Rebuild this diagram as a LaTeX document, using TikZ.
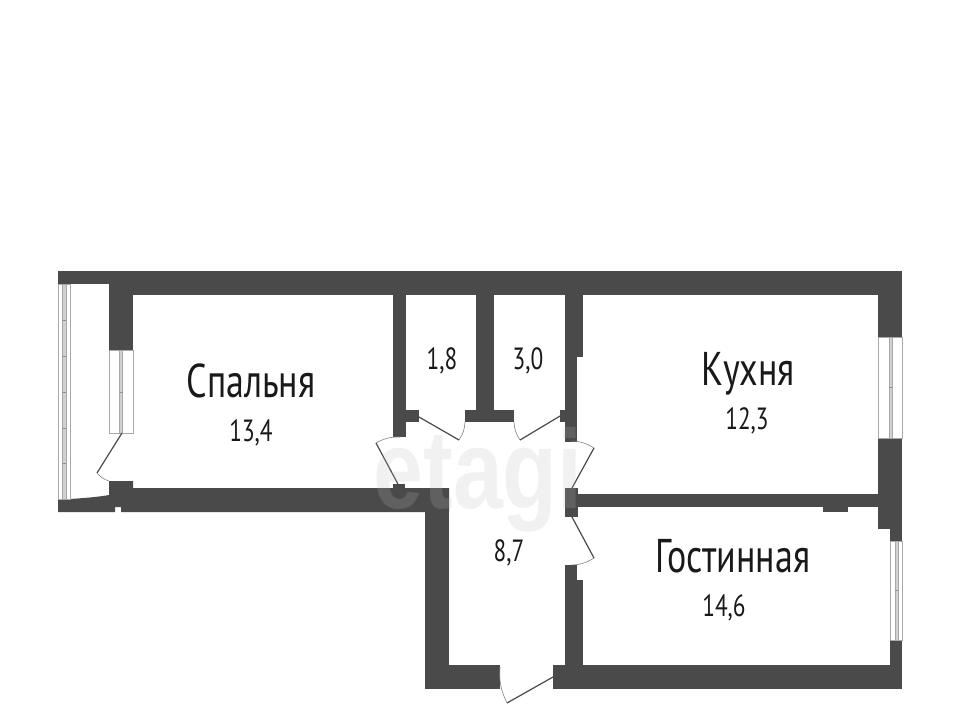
\documentclass[tikz,border=0pt]{standalone}
\usepackage{fontspec}
\newfontfamily\planfont[FakeStretch=0.76]{PT Sans}
\newfontfamily\markfont[FakeStretch=0.8]{Liberation Sans}
\definecolor{wallgray}{HTML}{4A4A4A}
\definecolor{framegray}{HTML}{A8A8A8}
\definecolor{glassgray}{HTML}{D0D0D0}
\definecolor{markgray}{HTML}{BABABA}
\tikzset{
    wall/.style={fill=wallgray, draw=none},
    frame/.style={draw=framegray, line width=0.75pt, fill=white},
    glass/.style={draw=framegray, line width=0.6pt, fill=glassgray},
    leaf/.style={draw=wallgray, line width=0.9pt},
    swing/.style={draw=gray, line width=0.45pt},
    bigname/.style={font=\planfont\fontsize{35.5}{36}\selectfont, text=black!90},
    smallnum/.style={font=\planfont\fontsize{23}{23}\selectfont, text=black!90}
}

\begin{document}
\begin{tikzpicture}[x=0.75pt, y=-0.75pt]
    \useasboundingbox (0,0) rectangle (960,710);
    % walls
    \foreach \xa/\ya/\xb/\yb in {
        58/271/110/284, 109/271/902/295, 109/271/133/350,
        393/295/406/437, 406/410/419/422, 476/295/494/411, 465/410/514/422,
        565/295/577/442, 577/295/583/357, 560/410/565/422, 393/484/405/488,
        878/295/902/337, 878/438/902/529, 890/529/902/541, 890/640/902/689,
        565/488/578/517, 578/494/878/507, 823/507/848/512,
        425/488/449/689, 425/665/500/689, 553/665/902/689,
        565/565/577/665, 577/580/583/665
    }{
        \fill[wall] (\xa,\ya) rectangle (\xb,\yb);
    }
    % bottom of the bedroom and the balcony
    \fill[wall] (58,499) -- (70,499) .. controls (85,498) and (98,497) .. (109,495)
        -- (109,481) -- (133,481) -- (133,488) -- (449,488) -- (449,512)
        -- (121,512) -- (121,507) -- (115,507) -- (115,512) -- (58,512) -- cycle;
    % windows
    \foreach \xa/\ya/\xb/\yb/\ma/\mb in {
        58/284/70/499/62/66, 109/350/133/433/119.5/122.5,
        878/337/902/438/889/892, 890/541/902/640/895/898
    }{
        \draw[frame] (\xa,\ya) rectangle (\xb,\yb);
        \draw[glass] (\ma,\ya) rectangle (\mb,\yb);
    }
    \foreach \ya/\ma/\mb in {
        320/62/66, 356/62/66, 392/62/66, 428/62/66, 463/62/66,
        392/119.5/122.5, 387/889/892, 590/895/898
    }{
        \draw[wallgray!60, line width=0.5pt] (\ma,\ya) -- (\mb,\ya);
    }
    % doors
    \foreach \hx/\hy/\tx/\ty/\ax/\ay/\bx/\by in {
        419/417/459/440/459/440/465/422,
        560/416/520/440/514/422/520/440,
        399/486/376/443/400/437/376/443,
        572/488/594/448/594/448/571/441,
        572/517/594/558/571/565/594/558,
        122/433/97/473/97/473/109/481,
        553/677/507/703/500/667/507/703
    }{
        \draw[leaf] (\hx,\hy) -- (\tx,\ty);
        \draw[swing] (\ax,\ay) to[bend right=15] (\bx,\by);
    }
    \node[font=\markfont\bfseries\fontsize{84}{84}\selectfont, text=markgray, text opacity=0.2] (watermark) at (478,480) {etagi};
    \node[bigname] (bedroom) at (251,381) {Спальня};
    \node[smallnum] (bedroomarea) at (251,433) {13,4};
    \node[bigname] (kitchen) at (748,374) {Кухня};
    \node[smallnum] (kitchenarea) at (747,421) {12,3};
    \node[bigname] (livingroom) at (733,556) {Гостинная};
    \node[smallnum] (livingarea) at (724,608) {14,6};
    \node[smallnum] (closetone) at (442,361) {1,8};
    \node[smallnum] (closettwo) at (528,361) {3,0};
    \node[smallnum] (hall) at (509,553) {8,7};
\end{tikzpicture}
\end{document}
